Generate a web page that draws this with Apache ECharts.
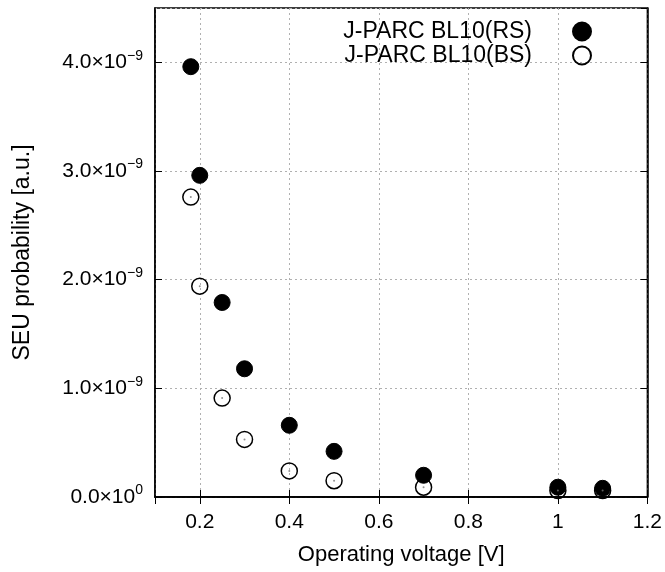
<!DOCTYPE html>
<html>
<head>
<meta charset="utf-8">
<script src="https://cdn.jsdelivr.net/npm/echarts@6/dist/echarts.min.js"></script>
<style>
html,body{margin:0;padding:0;background:#fff;}
#main{width:665px;height:572px;}
</style>
</head>
<body>
<div id="main"></div>
<script>
// operating voltage [V]
var voltRS = [0.18, 0.2, 0.25, 0.3, 0.4, 0.5, 0.7, 1.0, 1.1];
var seuRS = [3.96e-9, 2.96e-9, 1.79e-9, 1.18e-9, 0.66e-9, 0.42e-9, 0.20e-9, 0.09e-9, 0.08e-9];
var voltBS = [0.18, 0.2, 0.25, 0.3, 0.4, 0.5, 0.7, 1.0, 1.1];
var seuBS = [2.76e-9, 1.94e-9, 0.91e-9, 0.53e-9, 0.24e-9, 0.15e-9, 0.09e-9, 0.06e-9, 0.06e-9];
var seriesNames = ['J-PARC BL10(RS)', 'J-PARC BL10(BS)'];

var FONT = 'Liberation Sans';

function pairs(xs, ys){
	var out = [];
	for (var i = 0; i < xs.length; i++) out.push([xs[i], ys[i]]);
	return out;
}

function yLabel(v){
	var m = v / 1e-9;
	if (Math.abs(m - Math.round(m)) > 1e-6) return '';
	if (Math.round(m) === 0) return '{b|0.0×10}{s|0}';
	return '{b|' + Math.round(m).toFixed(1) + '×10}{s|−9}';
}

var dom = document.getElementById("main");
var myChart = echarts.init(dom);
var gridLine = {show: true, lineStyle: {color: '#b0b0b0', type: [2, 3], width: 1}};
var option = {
	animation: false,
	backgroundColor: '#fff',
	grid: {left: 155, right: 10, top: 8, bottom: 75, show: true, borderColor: '#000', borderWidth: 1.5},
	legend: {
		orient: 'vertical',
		right: 68,
		top: 15,
		align: 'right',
		itemGap: 1,
		itemWidth: 18,
		itemHeight: 18,
		textStyle: {fontFamily: FONT, fontSize: 23, color: '#000', padding: [0, 36, 0, 0]},
		data: seriesNames
	},
	xAxis: [{
		type: 'value',
		min: 0.1,
		max: 1.2,
		splitNumber: 5,
		name: 'Operating voltage [V]',
		nameLocation: 'middle',
		nameGap: 47,
		nameTextStyle: {fontFamily: FONT, fontSize: 22, color: '#000'},
		axisLine: {lineStyle: {color: '#000', width: 1.5}},
		axisTick: {inside: true, length: 7, lineStyle: {color: '#000'}},
		axisLabel: {fontFamily: FONT, fontSize: 21, color: '#000', margin: 15, showMinLabel: false},
		splitLine: gridLine
	}, {
		type: 'value',
		position: 'top',
		min: 0.1,
		max: 1.2,
		splitNumber: 5,
		axisLine: {lineStyle: {color: '#000', width: 1.5}},
		axisTick: {inside: true, length: 7, lineStyle: {color: '#000'}},
		axisLabel: {show: false},
		splitLine: {show: false}
	}],
	yAxis: [{
		type: 'value',
		min: 0,
		max: 4.5e-9,
		interval: 1e-9,
		name: 'SEU probability [a.u.]',
		nameLocation: 'middle',
		nameGap: 121,
		nameRotate: 90,
		nameTextStyle: {fontFamily: FONT, fontSize: 23, color: '#000'},
		axisLine: {lineStyle: {color: '#000', width: 1.5}},
		axisTick: {inside: true, length: 7, lineStyle: {color: '#000'}},
		axisLabel: {
			margin: 12,
			formatter: yLabel,
			showMaxLabel: false,
			rich: {
				b: {fontFamily: FONT, fontSize: 21, color: '#000'},
				s: {fontFamily: FONT, fontSize: 14, color: '#000', padding: [0, 0, 13, 0]}
			}
		},
		splitLine: gridLine
	}, {
		type: 'value',
		position: 'right',
		min: 0,
		max: 4.5e-9,
		interval: 1e-9,
		axisLine: {lineStyle: {color: '#000', width: 1.5}},
		axisTick: {inside: true, length: 7, lineStyle: {color: '#000'}},
		axisLabel: {show: false},
		splitLine: {show: false}
	}],
	series: [{
		name: seriesNames[0],
		type: 'scatter',
		symbol: 'circle',
		symbolSize: 16,
		itemStyle: {color: '#000', borderColor: '#000', borderWidth: 1, opacity: 1},
		data: pairs(voltRS, seuRS)
	}, {
		name: seriesNames[1],
		type: 'scatter',
		symbol: 'circle',
		symbolSize: 16,
		itemStyle: {color: 'rgba(255,255,255,0)', borderColor: '#000', borderWidth: 1.5, opacity: 1},
		data: pairs(voltBS, seuBS)
	}, {
		// centre dots of the open circles
		name: 'dots',
		type: 'scatter',
		symbol: 'circle',
		symbolSize: 2,
		silent: true,
		itemStyle: {color: '#777'},
		data: pairs(voltBS, seuBS)
	}]
};

if (option && typeof option === "object") {
	myChart.setOption(option, true);
}
</script>
</body>
</html>
